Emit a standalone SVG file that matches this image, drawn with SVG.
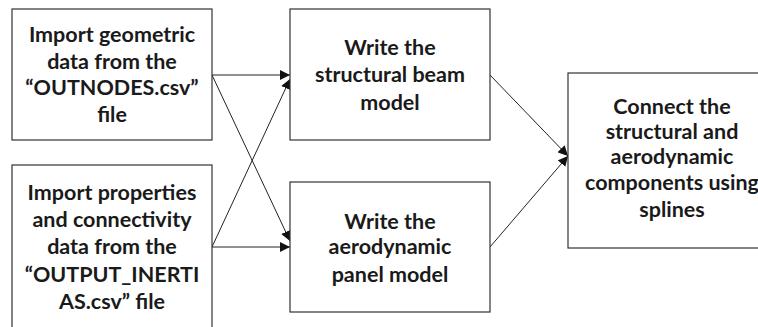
<svg xmlns="http://www.w3.org/2000/svg" width="758" height="327" viewBox="0 0 758 327">
<style>
.box{fill:#fff;stroke:#333;stroke-width:1.2}
.t{font-family:Lato,"Open Sans",sans-serif;font-weight:bold;font-size:21.5px;fill:#1a1a1a;text-anchor:middle}
.c{stroke:#222;stroke-width:1;fill:none;marker-end:url(#ah)}
</style>
<defs>
<marker id="ah" viewBox="0 0 10 10" refX="10" refY="5" markerWidth="10" markerHeight="10" markerUnits="userSpaceOnUse" orient="auto">
<path d="M0,0 L10,5 L0,10 z" fill="#111"/>
</marker>
</defs>
<rect width="758" height="327" fill="#fff"/>
<g id="connectors">
<line class="c" x1="212" y1="75" x2="290" y2="75"/>
<line class="c" x1="212" y1="75" x2="290" y2="241"/>
<line class="c" x1="212" y1="247" x2="290" y2="247"/>
<line class="c" x1="212" y1="247" x2="290" y2="79"/>
<line class="c" x1="490" y1="75" x2="568" y2="156"/>
<line class="c" x1="490" y1="247" x2="568" y2="156"/>
</g>
<g id="n1">
<rect class="box" x="12" y="9" width="200" height="131"/>
<text class="t" x="112" y="42">Import geometric</text>
<text class="t" x="112" y="69">data from the</text>
<text class="t" x="112" y="95">“OUTNODES.csv”</text>
<text class="t" x="112" y="122">file</text>
</g>
<g id="n2">
<rect class="box" x="12" y="165" width="200" height="170"/>
<text class="t" x="112" y="200">Import properties</text>
<text class="t" x="112" y="227">and connectivity</text>
<text class="t" x="112" y="254">data from the</text>
<text class="t" x="112" y="282">“OUTPUT_INERTI</text>
<text class="t" x="112" y="309">AS.csv” file</text>
</g>
<g id="n3">
<rect class="box" x="290" y="9" width="200" height="131"/>
<text class="t" x="390" y="55">Write the</text>
<text class="t" x="390" y="82">structural beam</text>
<text class="t" x="390" y="110">model</text>
</g>
<g id="n4">
<rect class="box" x="290" y="182" width="200" height="130"/>
<text class="t" x="390" y="229">Write the</text>
<text class="t" x="390" y="254">aerodynamic</text>
<text class="t" x="390" y="282">panel model</text>
</g>
<g id="n5">
<rect class="box" x="568" y="73" width="210" height="175"/>
<text class="t" x="672" y="114">Connect the</text>
<text class="t" x="672" y="139">structural and</text>
<text class="t" x="672" y="164">aerodynamic</text>
<text class="t" x="672" y="190">components using</text>
<text class="t" x="672" y="217">splines</text>
</g>
</svg>
